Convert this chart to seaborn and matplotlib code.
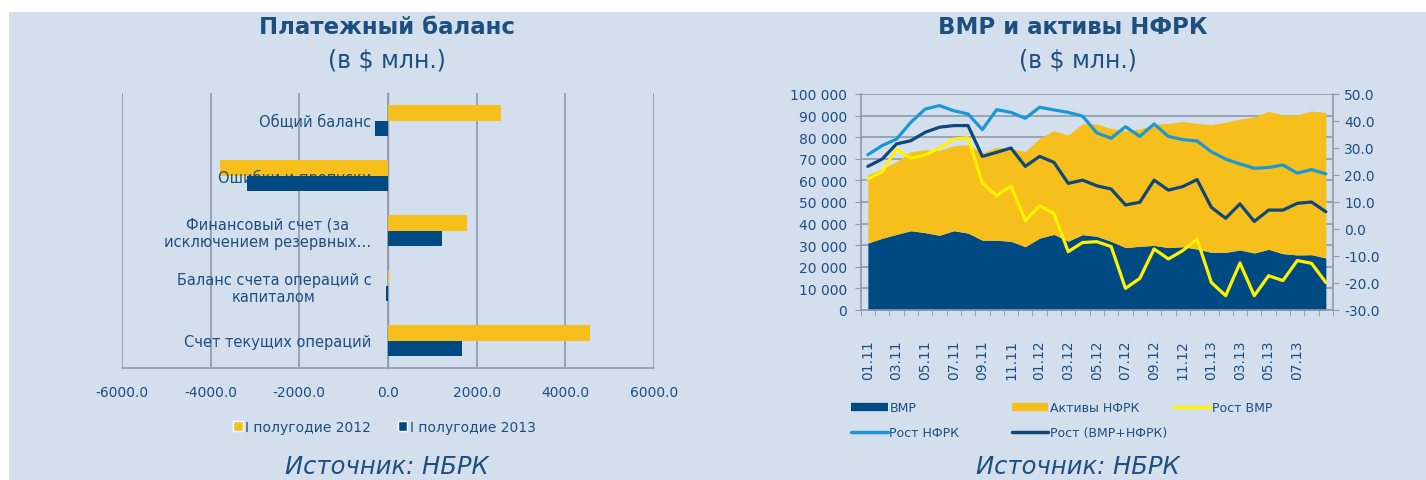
import numpy as np
import pandas as pd
import matplotlib
matplotlib.use("Agg")
import matplotlib.pyplot as plt
from matplotlib.patches import Rectangle, Patch
from matplotlib.lines import Line2D
from matplotlib.ticker import FuncFormatter, FixedLocator
import seaborn as sns

# --- data: payment balance (left) ---
categories = ['Общий баланс', 'Ошибки и пропуски',
              'Финансовый счет (за\nисключением резервных…',
              'Баланс счета операций с\nкапиталом', 'Счет текущих операций']
h1_2012 = [2560, -3780, 1785, 15, 4555]
h1_2013 = [-300, -3190, 1220, -40, 1670]
periods = ['I полугодие 2012', 'I полугодие 2013']

# --- data: ВМР and НФРК assets (right) ---
months = ['01.11', '02.11', '03.11', '04.11', '05.11', '06.11', '07.11', '08.11',
          '09.11', '10.11', '11.11', '12.11', '01.12', '02.12', '03.12', '04.12',
          '05.12', '06.12', '07.12', '08.12', '09.12', '10.12', '11.12', '12.12',
          '01.13', '02.13', '03.13', '04.13', '05.13', '06.13', '07.13', '08.13', '09.13']
vmr = [31000, 33200, 35000, 36700, 35800, 34600, 36700, 35600, 32300, 32300, 31800,
       29300, 33300, 35000, 31900, 34900, 34100, 31800, 28900, 29500, 29900, 28900,
       29300, 28200, 26700, 26700, 27800, 26400, 28100, 26100, 25500, 25600, 24100]
nfrk = [31700, 32100, 33700, 36600, 38400, 39200, 39400, 40900, 40400, 43000, 43000,
        44000, 46200, 48000, 49100, 51400, 52000, 52300, 54100, 54300, 56100, 57500,
        58000, 58200, 59100, 60200, 60600, 63000, 63900, 64200, 64900, 66500, 67300]
rost_vmr = [18.5, 21.2, 29.6, 26.2, 27.4, 30.0, 33.3, 33.8, 17.0, 12.3, 16.0, 3.1,
            8.6, 5.8, -8.4, -5.0, -4.7, -6.5, -22.0, -18.3, -7.4, -11.1, -8.0, -3.7,
            -19.8, -24.7, -12.6, -24.7, -17.3, -19.1, -11.7, -12.7, -19.8]
rost_nfrk = [27.5, 30.9, 33.3, 39.5, 44.4, 45.7, 43.8, 42.6, 36.8, 44.2, 43.2, 41.0,
             45.1, 44.1, 43.2, 41.8, 35.6, 33.6, 37.9, 34.3, 38.9, 34.3, 33.1, 32.6,
             28.6, 25.9, 24.1, 22.5, 22.8, 23.7, 20.7, 22.0, 20.4]
rost_total = [23.2, 25.9, 31.5, 32.7, 35.8, 37.7, 38.3, 38.3, 26.9, 28.4, 30.0, 23.2,
              26.9, 24.7, 16.9, 18.1, 16.0, 14.8, 8.9, 9.9, 18.1, 14.4, 15.7, 18.3,
              8.0, 4.0, 9.3, 2.8, 7.0, 7.0, 9.5, 10.0, 6.4]

# colours
bg = '#D4DFEE'
txt = '#1D4F7F'
yellow = '#F6BF1C'
navy = '#004A84'
grid_c = '#8E99AC'
yline = '#FFF200'
lblue = '#1A98D5'
dline = '#0E4779'

sns.set_style('white')
plt.rcParams['font.family'] = ['DejaVu Sans']
plt.rcParams['axes.unicode_minus'] = False

W, H = 1426, 481
fig = plt.figure(figsize=(W / 100, H / 100), dpi=100, facecolor='white')
fig.patches.append(Rectangle((9 / W, 0), 1 - 9 / W, 1 - 13 / H, transform=fig.transFigure,
                             facecolor=bg, edgecolor='none', zorder=-10))

def fx(px):
    return px / W

def fy(py):
    return 1 - py / H

# ---------------- left: payment balance ----------------
ax = fig.add_axes([fx(122), fy(369), fx(654 - 122), (369 - 94) / H])
ax.set_facecolor('none')
df = pd.DataFrame({'cat': categories * 2,
                   'value': h1_2012 + h1_2013,
                   'period': [periods[0]] * 5 + [periods[1]] * 5})
sns.barplot(data=df, x='value', y='cat', hue='period', orient='h',
            palette=[yellow, navy], width=0.56, ax=ax, legend=False,
            saturation=1, linewidth=0)
# label text sits above the 2012 bars and under the 2013 bars
for b in ax.containers[0]:
    b.set_zorder(1)
for b in ax.containers[1]:
    b.set_zorder(2)
ax.yaxis.set_zorder(1.5)
ax.set_xlim(-6000, 6000)
ax.set_ylim(4.5, -0.5)
xt = [-6000, -4000, -2000, 0, 2000, 4000, 6000]
ax.set_xticks(xt)
for v in xt:
    ax.axvline(v, color=grid_c, linewidth=1.2, zorder=0.3)
ax.xaxis.set_major_formatter(FuncFormatter(lambda v, p: f'{v:.1f}'))
ax.set_xlabel('')
ax.set_ylabel('')
for s in ['top', 'right']:
    ax.spines[s].set_visible(False)
ax.spines['bottom'].set_color(grid_c)
ax.spines['bottom'].set_linewidth(1.2)
ax.spines['left'].set_position(('data', 0))
ax.spines['left'].set_color(grid_c)
ax.spines['left'].set_linewidth(1.0)
ax.spines['left'].set_zorder(0.4)
ax.tick_params(axis='x', length=0, pad=12, labelsize=10, labelcolor=txt)
ax.tick_params(axis='y', which='major', length=0, pad=12, labelsize=10.5, labelcolor=txt)
ax.yaxis.set_minor_locator(FixedLocator([-0.5, 0.5, 1.5, 2.5, 3.5, 4.5]))
ax.tick_params(axis='y', which='minor', length=4, color=grid_c, direction='out')
for t in ax.get_yticklabels():
    t.set_multialignment('center')

leg_handles = [Patch(facecolor=yellow), Patch(facecolor=navy)]
fig.legend(leg_handles, periods, loc='center left', bbox_to_anchor=(fx(226), fy(428)),
           ncol=2, frameon=False, fontsize=10, labelcolor=txt, handlelength=0.7,
           handleheight=0.7, handletextpad=0.2, columnspacing=1.9, borderpad=0)

fig.text(fx(387), fy(28), 'Платежный баланс', ha='center', va='center',
         fontsize=16.5, fontweight='bold', color=txt)
fig.text(fx(387), fy(61), '(в $ млн.)', ha='center', va='center', fontsize=17, color=txt)
fig.text(fx(387), fy(467), 'Источник: НБРК', ha='center', va='center',
         fontsize=17.5, style='italic', color=txt)

# ---------------- right: ВМР and НФРК ----------------
x = np.arange(len(months))
ax1 = fig.add_axes([fx(860.7), fy(311), fx(1333 - 860.7), (311 - 95) / H])
ax1.set_facecolor('none')
ax1.stackplot(x, vmr, nfrk, colors=[navy, yellow], linewidth=0, zorder=2)
ax1.set_xlim(-0.5, len(months) - 0.5)
ax1.set_ylim(0, 100000)
ax1.set_yticks(np.arange(0, 100001, 10000))
ax1.yaxis.set_major_formatter(FuncFormatter(lambda v, p: f'{int(v):,}'.replace(',', ' ')))
ax1.grid(axis='y', color=grid_c, linewidth=1.2)
ax1.set_axisbelow(True)
ax1.set_xticks(x[:31:2])
ax1.set_xticklabels(months[:31:2], rotation=90)
ax1.xaxis.set_minor_locator(FixedLocator(np.arange(-0.5, len(months), 1.0)))
ax1.tick_params(axis='x', which='major', length=0, pad=21, labelsize=10, labelcolor=txt)
ax1.tick_params(axis='x', which='minor', length=4, color=grid_c, direction='out', bottom=True)
ax1.tick_params(axis='y', length=4, color=grid_c, direction='out', pad=6,
                labelsize=10, labelcolor=txt, left=True)
for s in ['top', 'right']:
    ax1.spines[s].set_visible(False)
for s in ['left', 'bottom']:
    ax1.spines[s].set_color(grid_c)
    ax1.spines[s].set_linewidth(1.2)

ax2 = ax1.twinx()
ax2.set_facecolor('none')
lines_df = pd.DataFrame({'x': x, 'Рост ВМР': rost_vmr, 'Рост НФРК': rost_nfrk,
                         'Рост (ВМР+НФРК)': rost_total})
sns.lineplot(data=lines_df, x='x', y='Рост НФРК', color=lblue, linewidth=2.3, ax=ax2)
sns.lineplot(data=lines_df, x='x', y='Рост (ВМР+НФРК)', color=dline, linewidth=2.3, ax=ax2)
sns.lineplot(data=lines_df, x='x', y='Рост ВМР', color=yline, linewidth=2.3, ax=ax2)
ax2.set_ylim(-30, 50)
ax2.set_yticks(np.arange(-30, 51, 10))
ax2.yaxis.set_major_formatter(FuncFormatter(lambda v, p: f'{v:.1f}'))
ax2.set_xlim(-0.5, len(months) - 0.5)
ax2.set_ylabel('')
ax2.set_xlabel('')
for s in ['top', 'left', 'bottom']:
    ax2.spines[s].set_visible(False)
ax2.spines['right'].set_color(grid_c)
ax2.spines['right'].set_linewidth(1.2)
ax2.tick_params(axis='y', length=4, color=grid_c, direction='out', pad=4,
                labelsize=10, labelcolor=txt, right=True)

# legend in three columns, placed by hand
leg_kw = dict(frameon=False, fontsize=9, labelcolor=txt, handlelength=2.9,
              handletextpad=0.15, labelspacing=0.95, borderpad=0, loc='upper left')
col1 = [Line2D([], [], color=navy, linewidth=6, solid_capstyle='butt'),
        Line2D([], [], color=lblue, linewidth=2.5, solid_capstyle='round')]
col2 = [Line2D([], [], color=yellow, linewidth=6, solid_capstyle='butt'),
        Line2D([], [], color=dline, linewidth=2.5, solid_capstyle='round')]
col3 = [Line2D([], [], color=yline, linewidth=2.5, solid_capstyle='round')]
fig.legend(col1, ['ВМР', 'Рост НФРК'], bbox_to_anchor=(fx(845), fy(396)), **leg_kw)
fig.legend(col2, ['Активы НФРК', 'Рост (ВМР+НФРК)'], bbox_to_anchor=(fx(1006), fy(396)), **leg_kw)
fig.legend(col3, ['Рост ВМР'], bbox_to_anchor=(fx(1168), fy(396)), **leg_kw)

fig.text(fx(1073), fy(28), 'ВМР и активы НФРК', ha='center', va='center',
         fontsize=16.5, fontweight='bold', color=txt)
fig.text(fx(1078), fy(61), '(в $ млн.)', ha='center', va='center', fontsize=17, color=txt)
fig.text(fx(1078), fy(467), 'Источник: НБРК', ha='center', va='center',
         fontsize=17.5, style='italic', color=txt)

fig.savefig('out.png', dpi=100, facecolor='white')
